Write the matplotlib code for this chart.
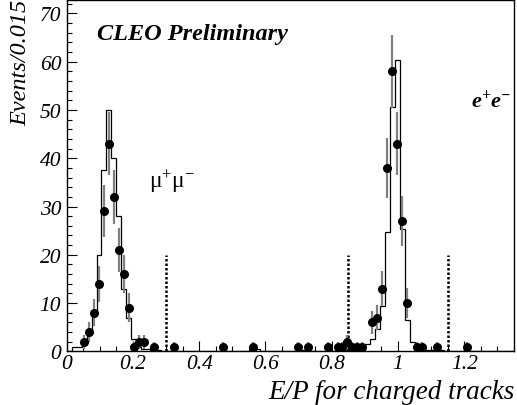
import numpy as np
import matplotlib
matplotlib.use("Agg")
import matplotlib.pyplot as plt

plt.rcParams['font.family'] = ['Liberation Serif', 'DejaVu Serif']
plt.rcParams['mathtext.fontset'] = 'custom'
plt.rcParams['mathtext.rm'] = 'Liberation Serif'
plt.rcParams['mathtext.it'] = 'Liberation Serif:italic'
plt.rcParams['mathtext.bf'] = 'Liberation Serif:italic:bold'

# 90 bins of width 0.015 from 0 to 1.35
bin_width = 0.015
n_bins = 90

# MC histogram (bin index -> content)
mc_bins = [1, 2, 3, 4, 5, 6, 7, 8, 9, 10, 11, 12, 13, 14, 15, 16, 17, 18,
           37, 38, 47, 48,
           55, 56, 57, 58, 59, 60, 61, 62, 63, 64, 65, 66, 67, 68, 69, 70,
           71, 72, 73, 74, 75]
mc_vals = [1, 1, 2, 4, 8, 20, 37.5, 50, 40, 28, 13, 7, 2.5, 1, 0.5, 0.5, 0.3, 0.3,
           0.4, 0.4, 0.3, 0.3,
           0.3, 0.3, 0.3, 0.5, 0.8, 1.5, 2.5, 4.6, 9.4, 24.7, 50.7, 60.4, 25.4, 6.5, 2, 0.6,
           0.5, 0.3, 0.3, 0.3, 0.3]

# data points (bin index -> events)
data_bins = [3, 4, 5, 6, 7, 8, 9, 10, 11, 12, 13, 14, 15, 17, 21, 31, 37, 46, 48,
             52, 54, 55, 56, 57, 58, 59, 61, 62, 63, 64, 65, 66, 67, 68, 70, 71, 74, 80]
data_vals = [2, 4, 8, 14, 29, 43, 32, 21, 16, 9, 1, 2, 2, 1, 1, 1, 1, 1, 1,
             1, 1, 1, 2, 1, 1, 1, 6, 7, 13, 38, 58, 43, 27, 10, 1, 1, 1, 1]

cut_x = [0.3, 0.85, 1.15]
cut_height = 20

edges = np.arange(n_bins + 1) * bin_width
mc = np.zeros(n_bins)
mc[mc_bins] = mc_vals
centers = (np.array(data_bins) + 0.5) * bin_width
counts = np.array(data_vals, dtype=float)
errs = np.sqrt(counts)

fig = plt.figure(figsize=(5.17, 4.06), dpi=100)
ax = fig.add_axes([0.129, 0.132, 0.865, 0.866])

ax.stairs(mc, edges, color='black', linewidth=0.9)
ax.errorbar(centers, counts, yerr=errs, fmt='o', color='black', markersize=5.5,
            ecolor='#808080', elinewidth=1.6, capsize=0, zorder=3)
ax.vlines(cut_x, 0, cut_height, colors='black', linewidth=1.8,
          linestyles=(0, (1.0, 0.8)))

ax.set_xlim(0, 1.35)
ax.set_ylim(0, 72.8)
ax.set_xticks(np.arange(0, 1.21, 0.2))
ax.set_xticklabels(['0', '0.2', '0.4', '0.6', '0.8', '1', '1.2'])
ax.set_xticks(np.arange(0, 1.35, 0.05), minor=True)
ax.set_yticks(np.arange(0, 71, 10))
ax.set_yticks(np.arange(0, 72.8, 2), minor=True)

ax.tick_params(which='both', direction='in', top=False, right=False,
               labelsize=15.5, width=0.8)
ax.tick_params(which='major', length=7)
ax.tick_params(which='minor', length=3.5)
for lab in ax.get_xticklabels() + ax.get_yticklabels():
    lab.set_fontstyle('italic')
ax.tick_params(axis='x', pad=2)
ax.tick_params(axis='y', pad=4)
for s in ax.spines.values():
    s.set_linewidth(1.0)

fig.text(515 / 517, 1 - 399 / 406, 'E/P for charged tracks', fontsize=19.5,
         fontstyle='italic', ha='right', va='baseline')
fig.text(21 / 517, 1.0, 'Events/0.015', fontsize=17.5, fontstyle='italic',
         rotation=90, ha='center', va='top')

ax.text(0.068, 0.905, 'CLEO Preliminary', transform=ax.transAxes, fontsize=17.5,
        fontstyle='italic', fontweight='bold', va='center')
ax.text(0.183, 0.485, r'$\mathrm{μ}^{+}\mathrm{μ}^{-}$', transform=ax.transAxes,
        fontsize=17, va='center')
ax.text(0.905, 0.715, r'$\mathbf{e^{+}e^{-}}$', transform=ax.transAxes,
        fontsize=16, va='center')

fig.savefig('out.png', dpi=100)
